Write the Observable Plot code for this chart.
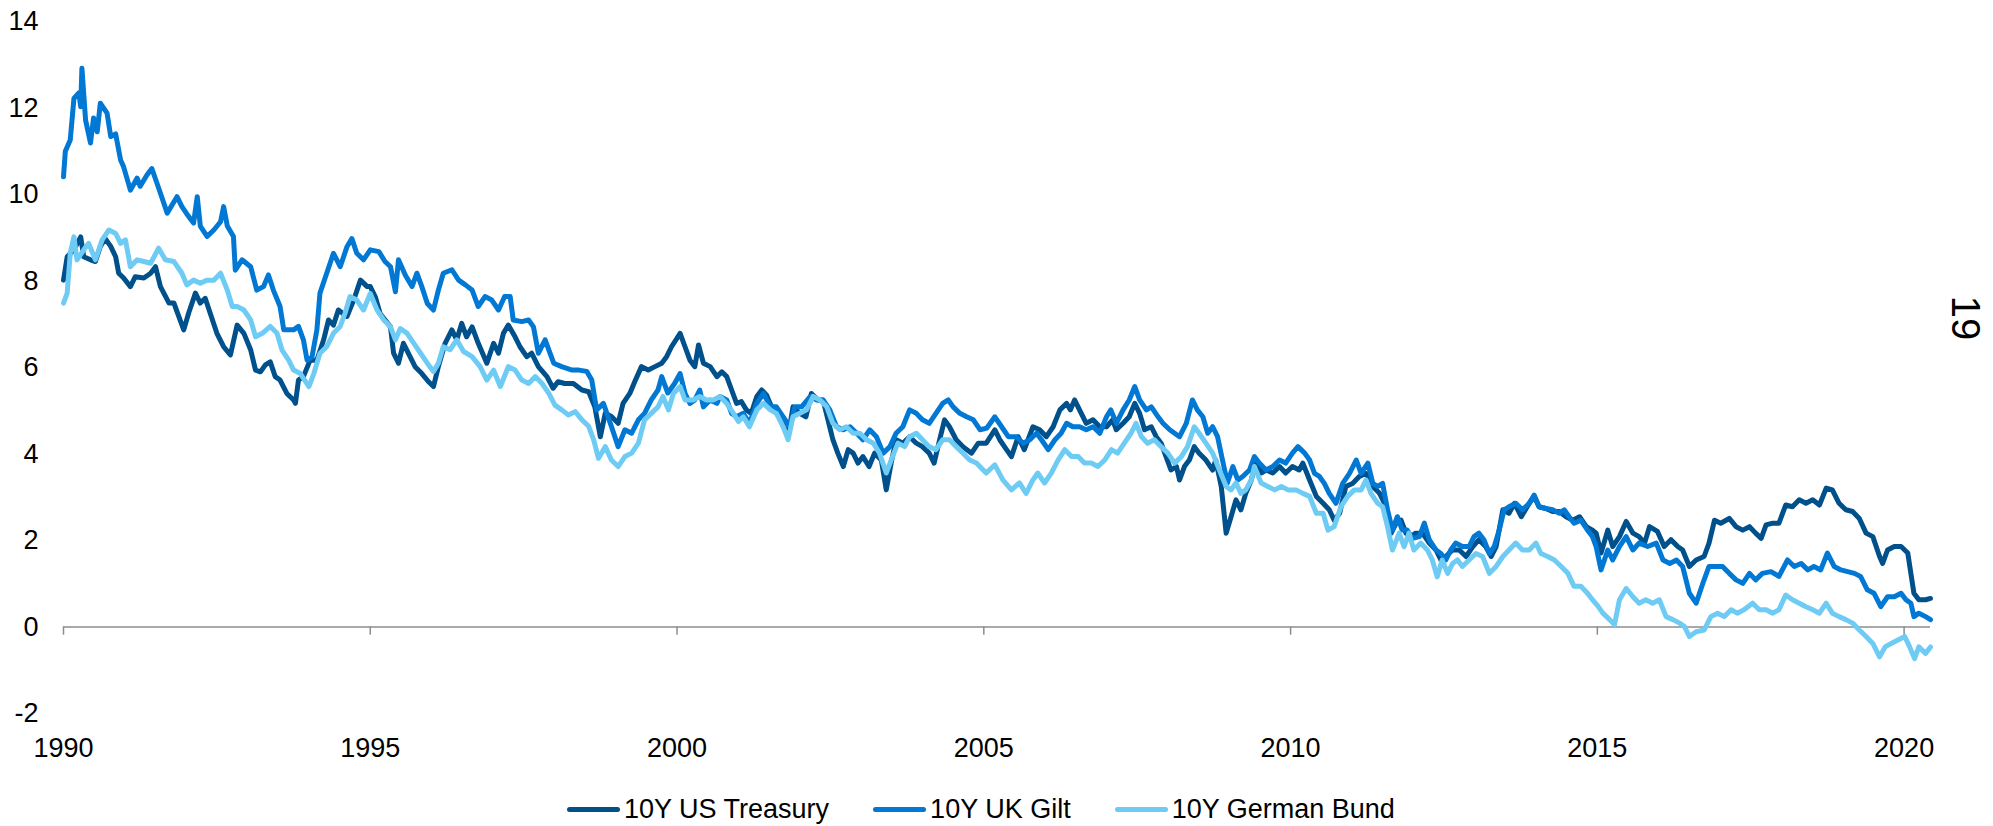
<!DOCTYPE html>
<html>
<head>
<meta charset="utf-8">
<script src="https://cdn.jsdelivr.net/npm/d3@7"></script>
<script src="https://cdn.jsdelivr.net/npm/@observablehq/plot@0.6"></script>
<style>
  html, body { margin: 0; padding: 0; background: #fff; }
  body { width: 1993px; height: 826px; position: relative; overflow: hidden; font-family: "Liberation Sans", Arial, sans-serif; }
  #chart { position: absolute; left: 0; top: 0; }
  #legend { position: absolute; left: 567px; top: 794px; display: flex; align-items: center; gap: 44px; font-size: 27px; color: #000; white-space: nowrap; }
  .item { display: flex; align-items: center; }
  .sw { width: 53px; height: 5px; border-radius: 3px; margin-right: 4px; }
  #page { position: absolute; left: 1965px; top: 318px; transform: translate(-50%, -50%) rotate(90deg); font-size: 40px; color: #000; }
</style>
</head>
<body>
<div id="chart"></div>
<div id="legend"></div>
<div id="page">19</div>
<script>
// ---- data (decimal years, yield %) ----
const seriesNames = ["10Y US Treasury", "10Y UK Gilt", "10Y German Bund"];
const seriesColors = ["#00508b", "#0078d4", "#6ecbf4"];
const xTicks = [1990, 1995, 2000, 2005, 2010, 2015, 2020];
const yTicks = [-2, 0, 2, 4, 6, 8, 10, 12, 14];

const usTime = [1990.00,1990.06,1990.17,1990.28,1990.33,1990.44,1990.52,1990.60,1990.68,1990.77,1990.85,1990.90,1990.98,1991.09,1991.17,1991.31,1991.42,1991.50,1991.58,1991.72,1991.80,1991.85,1991.96,1992.04,1992.15,1992.23,1992.31,1992.39,1992.50,1992.61,1992.72,1992.83,1992.94,1993.05,1993.13,1993.21,1993.29,1993.37,1993.45,1993.53,1993.64,1993.75,1993.78,1993.83,1993.91,1994.02,1994.13,1994.24,1994.32,1994.40,1994.48,1994.62,1994.73,1994.84,1994.95,1995.00,1995.08,1995.16,1995.24,1995.33,1995.38,1995.46,1995.54,1995.62,1995.73,1995.84,1995.95,1996.03,1996.11,1996.22,1996.33,1996.41,1996.49,1996.57,1996.66,1996.76,1996.90,1997.01,1997.09,1997.17,1997.25,1997.36,1997.44,1997.55,1997.63,1997.74,1997.88,1997.98,1998.06,1998.17,1998.31,1998.45,1998.56,1998.66,1998.75,1998.83,1998.93,1999.04,1999.12,1999.23,1999.31,1999.42,1999.53,1999.64,1999.75,1999.83,1999.91,2000.05,2000.13,2000.21,2000.29,2000.35,2000.43,2000.54,2000.65,2000.73,2000.81,2000.89,2000.97,2001.05,2001.13,2001.21,2001.30,2001.38,2001.46,2001.54,2001.62,2001.70,2001.81,2001.89,2002.00,2002.10,2002.19,2002.30,2002.38,2002.46,2002.54,2002.62,2002.71,2002.79,2002.87,2002.95,2003.03,2003.13,2003.22,2003.33,2003.41,2003.49,2003.57,2003.68,2003.79,2003.90,2004.00,2004.11,2004.19,2004.28,2004.36,2004.44,2004.55,2004.66,2004.80,2004.91,2005.04,2005.18,2005.26,2005.37,2005.45,2005.56,2005.66,2005.80,2005.91,2006.02,2006.13,2006.24,2006.35,2006.41,2006.48,2006.56,2006.67,2006.78,2006.89,2007.00,2007.10,2007.16,2007.27,2007.37,2007.46,2007.54,2007.62,2007.73,2007.81,2007.89,2007.97,2008.05,2008.14,2008.19,2008.27,2008.35,2008.43,2008.51,2008.62,2008.73,2008.78,2008.87,2008.95,2009.03,2009.11,2009.19,2009.27,2009.36,2009.44,2009.52,2009.60,2009.71,2009.82,2009.92,2010.03,2010.14,2010.20,2010.31,2010.42,2010.53,2010.63,2010.71,2010.80,2010.90,2011.01,2011.12,2011.23,2011.34,2011.45,2011.56,2011.64,2011.72,2011.80,2011.88,2011.96,2012.04,2012.15,2012.26,2012.37,2012.45,2012.53,2012.64,2012.75,2012.86,2012.97,2013.07,2013.18,2013.27,2013.35,2013.46,2013.56,2013.65,2013.76,2013.89,2013.97,2014.05,2014.16,2014.27,2014.38,2014.49,2014.60,2014.71,2014.82,2014.92,2014.98,2015.06,2015.17,2015.25,2015.36,2015.47,2015.58,2015.68,2015.77,2015.85,2015.98,2016.09,2016.20,2016.31,2016.39,2016.50,2016.61,2016.74,2016.82,2016.91,2017.01,2017.15,2017.26,2017.37,2017.48,2017.58,2017.67,2017.75,2017.86,2017.96,2018.07,2018.18,2018.29,2018.40,2018.51,2018.62,2018.73,2018.83,2018.94,2019.05,2019.16,2019.27,2019.38,2019.49,2019.60,2019.65,2019.73,2019.84,2019.95,2020.06,2020.11,2020.16,2020.24,2020.35,2020.43];
const usYield = [8.02,8.56,8.72,9.02,8.56,8.49,8.45,8.80,8.98,8.80,8.56,8.18,8.07,7.87,8.10,8.07,8.18,8.33,7.87,7.49,7.49,7.29,6.87,7.26,7.72,7.49,7.60,7.26,6.79,6.48,6.29,6.98,6.79,6.41,5.94,5.90,6.06,6.13,5.79,5.71,5.40,5.25,5.17,5.71,5.79,6.17,6.17,6.64,7.10,6.98,7.33,7.18,7.56,8.02,7.87,7.87,7.64,7.25,7.10,6.94,6.33,6.10,6.56,6.33,6.02,5.86,5.67,5.56,6.02,6.56,6.87,6.64,7.02,6.71,6.94,6.56,6.10,6.56,6.33,6.79,6.98,6.71,6.48,6.25,6.33,6.02,5.79,5.52,5.67,5.63,5.63,5.48,5.44,5.09,4.40,4.94,4.87,4.71,5.17,5.40,5.67,6.02,5.94,6.02,6.10,6.25,6.48,6.79,6.48,6.17,6.02,6.52,6.10,6.02,5.79,5.90,5.79,5.48,5.17,5.21,5.02,4.94,5.33,5.48,5.36,5.09,4.94,4.79,4.40,5.09,4.94,4.86,5.40,5.25,5.25,4.79,4.33,4.02,3.71,4.10,4.02,3.79,3.94,3.71,4.02,3.86,3.17,3.79,4.33,4.25,4.40,4.25,4.17,4.02,3.79,4.33,4.79,4.63,4.33,4.17,4.02,4.25,4.25,4.56,4.33,4.10,3.94,4.40,4.10,4.63,4.56,4.40,4.63,5.02,5.17,5.02,5.25,5.02,4.71,4.79,4.63,4.63,4.79,4.56,4.71,4.86,5.17,4.94,4.56,4.63,4.40,4.25,3.94,3.63,3.71,3.40,3.71,3.86,4.17,4.02,3.86,3.63,3.86,3.25,2.17,2.55,2.94,2.71,3.09,3.40,3.86,3.56,3.63,3.56,3.71,3.56,3.71,3.63,3.79,3.40,3.02,2.86,2.71,2.47,2.63,3.25,3.32,3.48,3.55,3.25,3.09,2.78,2.17,2.40,2.47,2.17,2.09,2.17,2.17,1.94,1.78,1.55,1.63,1.78,1.78,1.63,1.86,2.02,1.86,1.63,1.86,2.71,2.63,2.86,2.55,2.86,3.02,2.78,2.74,2.67,2.67,2.55,2.47,2.55,2.32,2.24,2.17,1.71,2.24,1.86,2.09,2.44,2.17,2.09,1.94,2.32,2.21,1.86,2.02,1.86,1.78,1.40,1.55,1.63,1.94,2.47,2.40,2.51,2.32,2.24,2.32,2.17,2.05,2.36,2.40,2.40,2.82,2.78,2.94,2.86,2.94,2.82,3.21,3.17,2.86,2.71,2.67,2.51,2.17,2.09,1.63,1.47,1.78,1.86,1.86,1.71,1.24,0.78,0.63,0.63,0.66];

const ukTime = [1990.00,1990.03,1990.11,1990.17,1990.25,1990.28,1990.30,1990.36,1990.44,1990.49,1990.55,1990.60,1990.71,1990.77,1990.85,1990.93,1990.98,1991.09,1991.20,1991.25,1991.36,1991.44,1991.58,1991.69,1991.85,1991.93,1992.01,1992.12,1992.18,1992.23,1992.34,1992.45,1992.56,1992.61,1992.67,1992.77,1992.80,1992.91,1993.05,1993.15,1993.26,1993.34,1993.42,1993.53,1993.59,1993.75,1993.83,1993.91,1993.97,1994.05,1994.13,1994.18,1994.29,1994.40,1994.51,1994.62,1994.70,1994.78,1994.89,1995.00,1995.14,1995.24,1995.33,1995.41,1995.46,1995.57,1995.68,1995.76,1995.84,1995.93,1996.03,1996.11,1996.19,1996.33,1996.44,1996.55,1996.66,1996.76,1996.87,1996.98,1997.09,1997.19,1997.28,1997.33,1997.47,1997.58,1997.66,1997.74,1997.85,1997.99,1998.12,1998.29,1998.40,1998.53,1998.61,1998.69,1998.80,1998.93,1999.04,1999.15,1999.26,1999.37,1999.47,1999.58,1999.69,1999.75,1999.85,1999.96,2000.05,2000.13,2000.21,2000.29,2000.37,2000.43,2000.54,2000.65,2000.70,2000.81,2000.89,2000.97,2001.08,2001.18,2001.30,2001.41,2001.52,2001.62,2001.73,2001.84,2001.92,2002.03,2002.17,2002.27,2002.38,2002.49,2002.60,2002.71,2002.82,2002.93,2003.03,2003.14,2003.25,2003.36,2003.47,2003.57,2003.68,2003.79,2003.90,2004.00,2004.11,2004.22,2004.33,2004.42,2004.50,2004.61,2004.72,2004.83,2004.94,2005.05,2005.18,2005.29,2005.40,2005.53,2005.64,2005.75,2005.86,2005.94,2006.05,2006.16,2006.26,2006.35,2006.45,2006.56,2006.67,2006.78,2006.89,2007.00,2007.07,2007.16,2007.27,2007.37,2007.46,2007.54,2007.65,2007.73,2007.84,2007.92,2008.03,2008.11,2008.19,2008.30,2008.40,2008.48,2008.57,2008.65,2008.73,2008.81,2008.89,2008.97,2009.06,2009.14,2009.22,2009.33,2009.41,2009.49,2009.60,2009.71,2009.82,2009.92,2010.03,2010.12,2010.23,2010.31,2010.39,2010.47,2010.55,2010.63,2010.74,2010.85,2010.96,2011.07,2011.15,2011.26,2011.34,2011.42,2011.50,2011.58,2011.66,2011.74,2011.82,2011.90,2011.99,2012.10,2012.18,2012.26,2012.37,2012.45,2012.53,2012.61,2012.69,2012.80,2012.91,2012.99,2013.07,2013.15,2013.24,2013.32,2013.40,2013.48,2013.56,2013.67,2013.78,2013.89,2013.97,2014.05,2014.16,2014.27,2014.38,2014.46,2014.54,2014.62,2014.73,2014.84,2014.92,2014.98,2015.06,2015.17,2015.25,2015.36,2015.47,2015.58,2015.68,2015.82,2015.96,2016.07,2016.18,2016.29,2016.39,2016.50,2016.61,2016.72,2016.82,2016.93,2017.04,2017.15,2017.26,2017.37,2017.48,2017.58,2017.69,2017.83,2017.96,2018.10,2018.21,2018.32,2018.43,2018.53,2018.64,2018.75,2018.86,2018.97,2019.08,2019.19,2019.29,2019.40,2019.51,2019.62,2019.73,2019.84,2019.95,2020.03,2020.11,2020.16,2020.24,2020.35,2020.43];
const ukYield = [10.41,11.00,11.26,12.22,12.35,12.03,12.92,11.72,11.19,11.77,11.45,12.11,11.88,11.34,11.40,10.80,10.64,10.10,10.38,10.19,10.45,10.60,10.03,9.57,9.95,9.72,9.55,9.34,9.95,9.27,9.03,9.18,9.37,9.72,9.27,9.03,8.25,8.49,8.33,7.79,7.87,8.14,7.79,7.41,6.87,6.87,6.95,6.64,6.17,6.24,6.87,7.72,8.18,8.64,8.33,8.79,8.98,8.64,8.49,8.72,8.68,8.45,8.33,7.75,8.49,8.14,7.87,8.18,7.87,7.48,7.33,7.79,8.18,8.26,8.02,7.91,7.79,7.41,7.64,7.56,7.33,7.64,7.64,7.10,7.06,7.10,6.94,6.33,6.64,6.10,6.02,5.94,5.94,5.91,5.71,5.02,5.17,4.64,4.17,4.56,4.48,4.79,4.94,5.25,5.48,5.79,5.41,5.63,5.86,5.40,5.17,5.25,5.48,5.09,5.25,5.17,5.33,5.25,4.94,4.86,4.94,4.71,5.17,5.40,5.09,5.09,4.86,4.63,5.09,5.09,5.33,5.25,5.25,5.02,4.63,4.56,4.63,4.48,4.33,4.56,4.40,4.02,4.17,4.48,4.63,5.02,4.94,4.79,4.71,4.94,5.17,5.25,5.09,4.94,4.86,4.79,4.56,4.60,4.86,4.63,4.40,4.40,4.25,4.33,4.48,4.33,4.10,4.33,4.48,4.71,4.63,4.63,4.56,4.63,4.48,4.86,5.02,4.71,5.02,5.25,5.56,5.25,5.02,5.09,4.86,4.71,4.56,4.48,4.40,4.71,5.25,5.02,4.86,4.48,4.63,4.40,3.86,3.33,3.71,3.40,3.48,3.63,3.94,3.79,3.63,3.71,3.86,3.79,4.02,4.17,4.02,3.86,3.55,3.48,3.32,3.09,2.86,3.32,3.55,3.86,3.55,3.79,3.32,3.25,3.32,2.71,2.24,2.55,2.24,2.24,2.05,2.09,2.40,2.02,1.78,1.70,1.55,1.78,1.94,1.86,1.86,2.09,2.17,2.02,1.70,1.86,2.24,2.71,2.78,2.86,2.71,2.86,3.05,2.78,2.74,2.71,2.63,2.71,2.55,2.40,2.47,2.24,2.09,1.86,1.32,1.78,1.55,1.86,2.09,1.78,1.94,1.86,1.94,1.55,1.47,1.55,1.40,0.78,0.55,1.01,1.40,1.40,1.40,1.24,1.09,1.01,1.24,1.09,1.24,1.28,1.17,1.55,1.40,1.47,1.32,1.40,1.32,1.71,1.40,1.32,1.28,1.24,1.17,0.86,0.78,0.47,0.70,0.70,0.78,0.63,0.55,0.24,0.32,0.24,0.17];

const deTime = [1990.00,1990.06,1990.11,1990.17,1990.22,1990.33,1990.41,1990.52,1990.63,1990.74,1990.85,1990.93,1991.01,1991.09,1991.20,1991.31,1991.42,1991.55,1991.66,1991.80,1991.93,1992.01,1992.12,1992.23,1992.34,1992.45,1992.56,1992.67,1992.75,1992.83,1992.94,1993.05,1993.13,1993.24,1993.37,1993.48,1993.56,1993.67,1993.75,1993.86,1994.00,1994.08,1994.18,1994.29,1994.40,1994.51,1994.59,1994.67,1994.78,1994.89,1995.00,1995.11,1995.22,1995.33,1995.41,1995.49,1995.60,1995.71,1995.82,1995.93,1996.03,1996.11,1996.19,1996.30,1996.41,1996.52,1996.66,1996.79,1996.90,1997.01,1997.12,1997.25,1997.36,1997.47,1997.58,1997.69,1997.80,1997.91,1998.01,1998.12,1998.23,1998.34,1998.45,1998.56,1998.64,1998.72,1998.83,1998.93,1999.04,1999.15,1999.26,1999.37,1999.47,1999.58,1999.69,1999.77,1999.86,1999.94,2000.05,2000.13,2000.26,2000.37,2000.48,2000.59,2000.70,2000.81,2000.92,2001.00,2001.08,2001.18,2001.30,2001.41,2001.52,2001.62,2001.73,2001.81,2001.89,2002.00,2002.11,2002.22,2002.33,2002.44,2002.54,2002.65,2002.76,2002.87,2002.98,2003.09,2003.20,2003.30,2003.41,2003.49,2003.60,2003.71,2003.79,2003.90,2004.00,2004.11,2004.22,2004.33,2004.44,2004.55,2004.66,2004.77,2004.88,2004.99,2005.04,2005.18,2005.31,2005.45,2005.58,2005.69,2005.80,2005.88,2005.99,2006.10,2006.21,2006.32,2006.43,2006.54,2006.64,2006.75,2006.86,2006.97,2007.08,2007.18,2007.29,2007.40,2007.48,2007.57,2007.67,2007.78,2007.89,2008.00,2008.11,2008.22,2008.32,2008.43,2008.51,2008.62,2008.73,2008.84,2008.95,2009.03,2009.11,2009.19,2009.27,2009.36,2009.41,2009.52,2009.63,2009.74,2009.85,2009.96,2010.09,2010.20,2010.31,2010.42,2010.53,2010.61,2010.71,2010.82,2010.93,2011.04,2011.15,2011.23,2011.31,2011.42,2011.50,2011.58,2011.66,2011.77,2011.85,2011.93,2012.01,2012.12,2012.23,2012.31,2012.39,2012.47,2012.56,2012.64,2012.72,2012.80,2012.91,2013.02,2013.13,2013.24,2013.35,2013.46,2013.56,2013.67,2013.78,2013.89,2014.00,2014.08,2014.19,2014.30,2014.41,2014.52,2014.62,2014.73,2014.84,2014.92,2015.00,2015.09,2015.20,2015.28,2015.36,2015.47,2015.58,2015.68,2015.79,2015.90,2016.01,2016.12,2016.23,2016.34,2016.42,2016.50,2016.61,2016.74,2016.85,2016.96,2017.07,2017.18,2017.28,2017.39,2017.53,2017.64,2017.75,2017.86,2017.96,2018.07,2018.18,2018.29,2018.40,2018.51,2018.62,2018.73,2018.83,2018.94,2019.05,2019.16,2019.27,2019.38,2019.49,2019.60,2019.69,2019.79,2019.90,2020.01,2020.09,2020.17,2020.24,2020.35,2020.43];
const deYield = [7.49,7.72,8.64,9.02,8.49,8.72,8.87,8.49,8.95,9.18,9.10,8.87,8.95,8.33,8.49,8.45,8.41,8.76,8.49,8.45,8.18,7.91,8.02,7.95,8.02,8.02,8.18,7.79,7.41,7.41,7.33,7.10,6.71,6.79,6.95,6.79,6.41,6.17,5.94,5.86,5.56,5.86,6.33,6.48,6.79,6.95,7.26,7.64,7.56,7.33,7.71,7.33,7.10,6.94,6.64,6.90,6.79,6.56,6.33,6.10,5.91,6.10,6.48,6.41,6.64,6.37,6.25,6.02,5.71,5.94,5.56,6.02,5.94,5.71,5.63,5.79,5.63,5.40,5.13,5.02,4.90,4.98,4.79,4.64,4.33,3.90,4.17,3.86,3.71,3.94,4.02,4.25,4.79,4.94,5.09,5.33,5.02,5.40,5.56,5.25,5.25,5.33,5.25,5.25,5.33,5.17,4.94,4.75,4.86,4.63,5.02,5.17,5.02,4.94,4.63,4.33,4.86,4.94,5.02,5.33,5.25,5.09,4.71,4.56,4.63,4.48,4.48,4.33,4.25,4.02,3.56,3.86,4.25,4.17,4.40,4.48,4.33,4.17,4.10,4.33,4.33,4.17,4.02,3.86,3.79,3.63,3.56,3.75,3.40,3.17,3.33,3.09,3.40,3.56,3.33,3.56,3.86,4.10,3.94,3.94,3.79,3.79,3.71,3.86,4.10,4.02,4.25,4.48,4.71,4.40,4.25,4.33,4.17,4.02,3.79,3.94,4.17,4.63,4.48,4.25,4.02,3.63,3.25,3.17,3.33,3.09,3.17,3.40,3.71,3.33,3.25,3.17,3.25,3.17,3.17,3.09,3.02,2.63,2.63,2.24,2.32,2.78,3.02,3.17,3.17,3.40,3.09,2.86,2.78,2.32,1.78,2.17,1.86,2.17,1.78,1.94,1.78,1.55,1.16,1.55,1.24,1.47,1.55,1.40,1.55,1.70,1.63,1.24,1.40,1.63,1.78,1.94,1.78,1.78,1.94,1.70,1.63,1.55,1.40,1.24,0.94,0.94,0.78,0.63,0.50,0.32,0.17,0.05,0.63,0.89,0.70,0.55,0.63,0.55,0.63,0.24,0.17,0.09,0.01,-0.22,-0.11,-0.07,0.24,0.32,0.24,0.40,0.32,0.40,0.55,0.40,0.40,0.32,0.40,0.74,0.63,0.55,0.47,0.40,0.32,0.55,0.32,0.24,0.17,0.09,-0.07,-0.22,-0.38,-0.69,-0.46,-0.38,-0.30,-0.22,-0.46,-0.73,-0.46,-0.61,-0.46];

// ---- build rows ----
const seriesData = [
  {name: seriesNames[0], t: usTime, v: usYield},
  {name: seriesNames[1], t: ukTime, v: ukYield},
  {name: seriesNames[2], t: deTime, v: deYield}
];
const rows = seriesData.flatMap(s => s.t.map((t, i) => ({series: s.name, t, v: s.v[i]})));

const chart = Plot.plot({
  width: 1993,
  height: 770,
  marginLeft: 63,
  marginRight: 63,
  marginTop: 21,
  marginBottom: 57,
  style: {fontFamily: "'Liberation Sans', Arial, sans-serif", fontSize: "27px", color: "#000", background: "#fff"},
  x: {domain: [1990, 2020.43], ticks: xTicks, tickFormat: d => String(d), tickSize: 0, tickPadding: 24, label: null},
  y: {domain: [-2, 14], ticks: yTicks, tickFormat: d => String(d), tickSize: 0, tickPadding: 25, label: null},
  color: {domain: seriesNames, range: seriesColors},
  marks: [
    Plot.ruleY([0], {stroke: "#8c8c8c", strokeWidth: 1.5}),
    Plot.ruleX(xTicks, {x: d => d, y1: 0, y2: -0.19, stroke: "#8c8c8c", strokeWidth: 1.5}),
    Plot.line(rows, {x: "t", y: "v", z: "series", stroke: "series", strokeWidth: 5, strokeLinejoin: "round", strokeLinecap: "round"})
  ]
});
document.getElementById("chart").appendChild(chart);

// ---- legend ----
const legend = document.getElementById("legend");
seriesNames.forEach((n, i) => {
  const item = document.createElement("div");
  item.className = "item";
  const sw = document.createElement("div");
  sw.className = "sw";
  sw.style.background = seriesColors[i];
  const lab = document.createElement("span");
  lab.textContent = n;
  item.appendChild(sw);
  item.appendChild(lab);
  legend.appendChild(item);
});
</script>
</body>
</html>
